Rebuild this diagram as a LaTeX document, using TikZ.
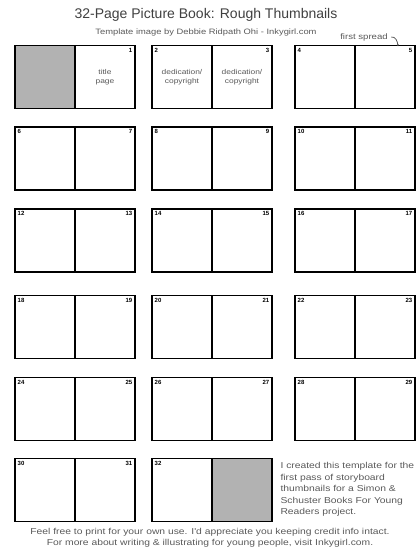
\documentclass[tikz,border=0pt]{standalone}
\usepackage{fontspec}
\setmainfont{Liberation Sans}
\newfontfamily\handfont[FakeStretch=1.2]{Liberation Sans}
\usetikzlibrary{positioning, arrows.meta}

\begin{document}
\begin{tikzpicture}[
    x=1pt, y=-1pt,
    page/.style={
        rectangle,
        draw=black, line width=1.3pt,
        minimum width=60pt, minimum height=63pt,
        inner sep=0pt, outer sep=0pt,
        align=center, text=black!65,
        font=\handfont\fontsize{7pt}{8.5pt}\selectfont
    },
    blank/.style={page, fill=black!30},
    pnum/.style={font=\fontsize{6pt}{6pt}\selectfont\bfseries, inner sep=2.5pt},
    numL/.style={label={[pnum, anchor=north west]north west:#1}},
    numR/.style={label={[pnum, anchor=north east]north east:#1}},
    note/.style={text=black!65, align=left, font=\handfont\fontsize{8.6pt}{11.5pt}\selectfont},
    credit/.style={text=black!65, align=center, font=\handfont\fontsize{8.6pt}{11pt}\selectfont},
]
\useasboundingbox (0,0) rectangle (420,550);

% ---------- Title ----------
\node[text=black!75, font=\fontsize{14pt}{16pt}\selectfont] (title) at (206,15) {32-Page Picture Book: Rough Thumbnails};
\node[credit, font=\handfont\fontsize{7.8pt}{9pt}\selectfont, below=0pt of title] (subtitle) {Template image by Debbie Ridpath Ohi - Inkygirl.com};

% ---------- Row 1 ----------
\node[blank] (p0) at (45,77) {};
\node[page, numR=1, right=0pt of p0] (p1) {title\\page};
\node[page, numL=2] (p2) at (182,77) {dedication/\\copyright};
\node[page, numR=3, right=0pt of p2] (p3) {dedication/\\copyright};
\node[page, numL=4] (p4) at (325,77) {};
\node[page, numR=5, right=0pt of p4] (p5) {};

\node[text=black!65, font=\handfont\fontsize{8pt}{8pt}\selectfont] (firstspread) at (364,37) {first spread};
\draw[-{Stealth[length=2.5pt]}, black!65, thick] (firstspread.east) to[out=10, in=95] ([xshift=13pt, yshift=-1pt]p5.north);

% ---------- Row 2 ----------
\node[page, numL=6] (p6) at (45,158.5) {};
\node[page, numR=7, right=0pt of p6] (p7) {};
\node[page, numL=8] (p8) at (182,158.5) {};
\node[page, numR=9, right=0pt of p8] (p9) {};
\node[page, numL=10] (p10) at (325,158.5) {};
\node[page, numR=11, right=0pt of p10] (p11) {};

% ---------- Row 3 ----------
\node[page, numL=12] (p12) at (45,240.5) {};
\node[page, numR=13, right=0pt of p12] (p13) {};
\node[page, numL=14] (p14) at (182,240.5) {};
\node[page, numR=15, right=0pt of p14] (p15) {};
\node[page, numL=16] (p16) at (325,240.5) {};
\node[page, numR=17, right=0pt of p16] (p17) {};

% ---------- Row 4 ----------
\node[page, numL=18] (p18) at (45,327) {};
\node[page, numR=19, right=0pt of p18] (p19) {};
\node[page, numL=20] (p20) at (182,327) {};
\node[page, numR=21, right=0pt of p20] (p21) {};
\node[page, numL=22] (p22) at (325,327) {};
\node[page, numR=23, right=0pt of p22] (p23) {};

% ---------- Row 5 ----------
\node[page, numL=24] (p24) at (45,409) {};
\node[page, numR=25, right=0pt of p24] (p25) {};
\node[page, numL=26] (p26) at (182,409) {};
\node[page, numR=27, right=0pt of p26] (p27) {};
\node[page, numL=28] (p28) at (325,409) {};
\node[page, numR=29, right=0pt of p28] (p29) {};

% ---------- Row 6 ----------
\node[page, numL=30] (p30) at (45,490) {};
\node[page, numR=31, right=0pt of p30] (p31) {};
\node[page, numL=32] (p32) at (182,490) {};
\node[blank, right=0pt of p32] (p33) {};

\node[note, anchor=north west] (about) at (277,459) {I created this template for the\\first pass of storyboard\\thumbnails for a Simon \&\\Schuster Books For Young\\Readers project.};

% ---------- Footer ----------
\node[credit] (footer) at (210,538) {Feel free to print for your own use. I'd appreciate you keeping credit info intact.\\For more about writing \& illustrating for young people, visit Inkygirl.com.};

\end{tikzpicture}
\end{document}
